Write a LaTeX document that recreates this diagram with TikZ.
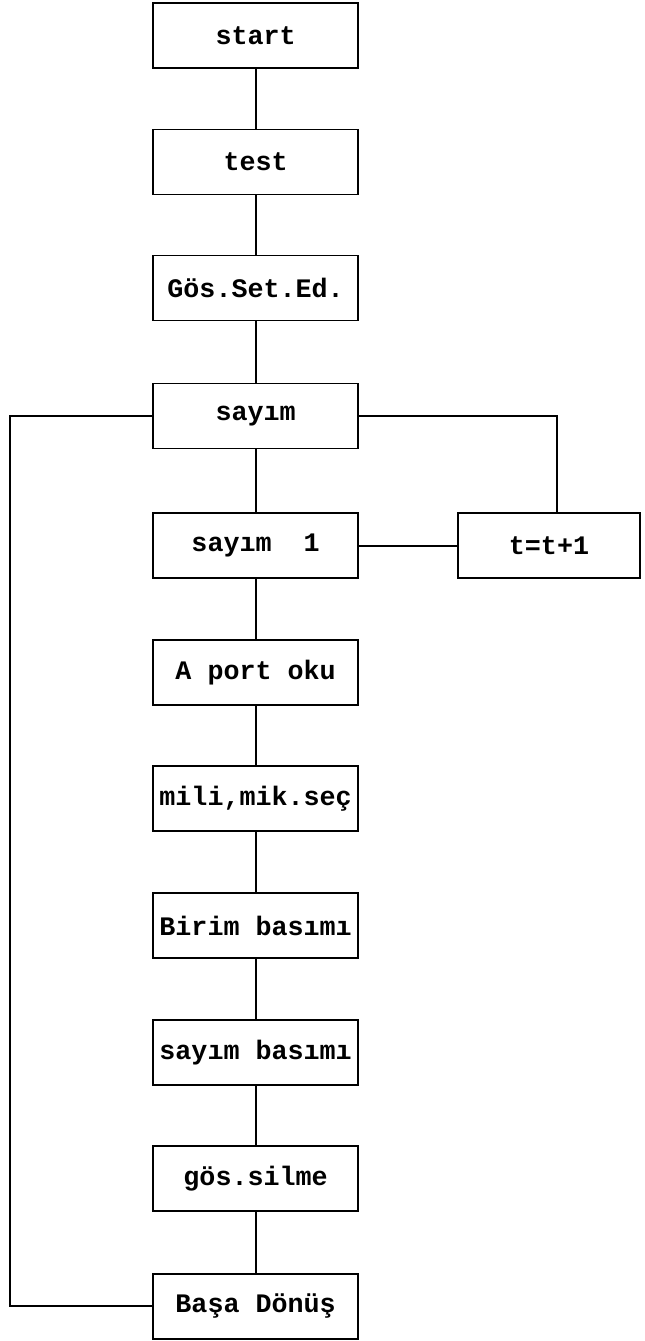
\documentclass[tikz,border=0pt]{standalone}
\usepackage{fontspec}
\setmonofont{Liberation Mono}
\usepackage{tikz}
\tikzset{
  blok/.style={draw, line width=1.4pt, minimum width=5.125cm, minimum height=1.625cm,
    inner sep=0pt, font=\ttfamily\bfseries\fontsize{19}{21}\selectfont},
  hat/.style={line width=1.4pt}
}
\begin{document}
\begin{tikzpicture}
    \useasboundingbox (0,0) rectangle (16.1,-33.525);
    % ana akis
    \node[blok] (start) at (6.39,-0.89) {start};
    \node[blok] (test) at (6.39,-4.05) {test};
    \node[blok] (goset) at (6.39,-7.2) {Gös.Set.Ed.};
    \node[blok] (sayim) at (6.39,-10.4) {sayım};
    \node[blok] (sayimbir) at (6.39,-13.64) {sayım\ \ 1};
    \node[blok] (aport) at (6.39,-16.81) {A port oku};
    \node[blok] (milimik) at (6.39,-19.96) {mili,mik.seç};
    \node[blok] (birim) at (6.39,-23.14) {Birim basımı};
    \node[blok] (sayimbas) at (6.39,-26.31) {sayım basımı};
    \node[blok] (gossil) at (6.39,-29.46) {gös.silme};
    \node[blok] (basa) at (6.39,-32.66) {Başa Dönüş};
    % yan kol
    \node[blok, minimum width=4.55cm] (tart) at (13.725,-13.64) {t=t+1};
    \coordinate (sol) at (0.25,0);
    \coordinate (sag) at (13.925,0);
    \draw[hat] (start) -- (test) -- (goset) -- (sayim) -- (sayimbir) -- (aport)
      -- (milimik) -- (birim) -- (sayimbas) -- (gossil) -- (basa);
    \draw[hat] (sayimbir) -- (tart);
    \draw[hat] (sayim.east) -- (sayim.east -| sag) -- (sag |- tart.north);
    \draw[hat] (sayim.west) -- (sayim.west -| sol) |- (basa.west);
  \end{tikzpicture}
\end{document}
